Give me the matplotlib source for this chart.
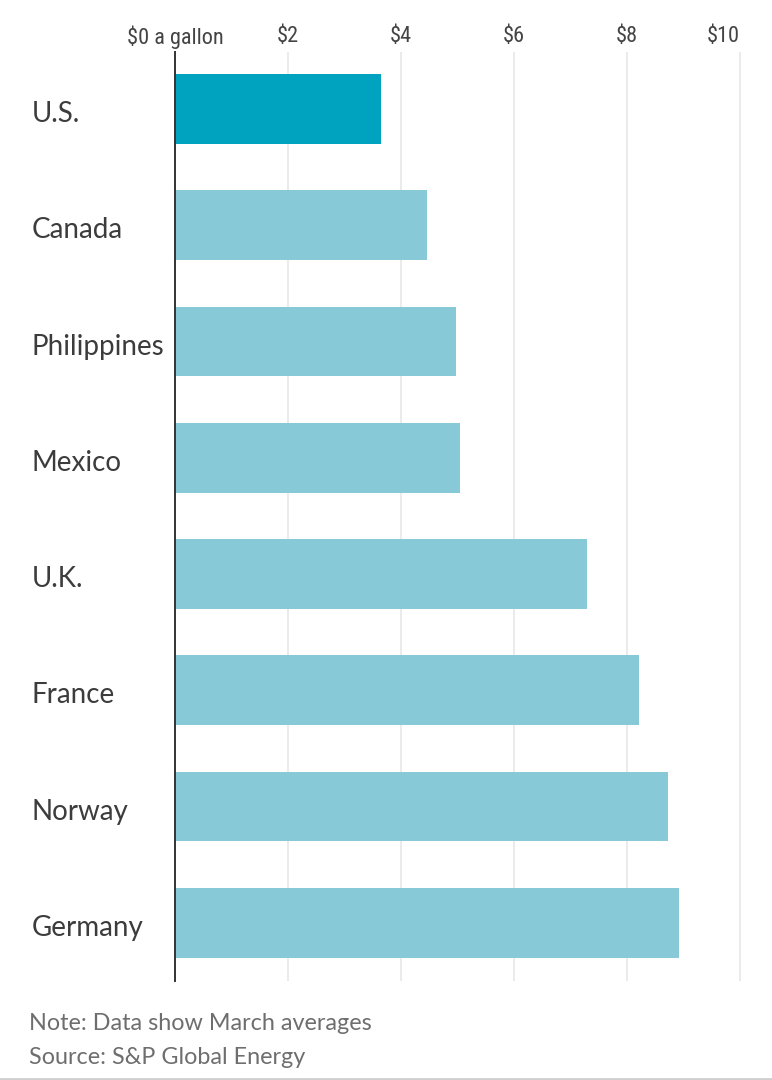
import matplotlib
matplotlib.use("Agg")
import matplotlib.pyplot as plt
import logging
logging.getLogger("matplotlib.font_manager").setLevel(logging.ERROR)

countries = ["U.S.", "Canada", "Philippines", "Mexico", "U.K.", "France", "Norway", "Germany"]
prices = [3.65, 4.47, 4.98, 5.05, 7.30, 8.22, 8.74, 8.93]
tick_values = [0, 2, 4, 6, 8, 10]
tick_labels = ["$0 a gallon", "$2", "$4", "$6", "$8", "$10"]
note_lines = ["Note: Data show March averages", "Source: S&P Global Energy"]
highlight = "#00A3BF"
muted = "#87C9D7"

W, H = 772, 1080
fig = plt.figure(figsize=(W / 100, H / 100), dpi=100, facecolor="white")
ax = fig.add_axes([175 / W, 1 - 981 / H, (741 - 175) / W, (981 - 52) / H])
ax.set_xlim(0, 566 / 56.45)
ax.set_ylim(7.5, -0.49)

ax.barh(range(len(countries)), prices, height=0.6,
        color=[highlight] + [muted] * (len(countries) - 1), zorder=2, linewidth=0)
for s in ["top", "right", "bottom"]:
    ax.spines[s].set_visible(False)
ax.spines["left"].set_color("#333333")
ax.spines["left"].set_linewidth(1.4)
ax.spines["left"].set_zorder(3)

ax.xaxis.tick_top()
ax.set_xticks(tick_values)
ax.set_xticklabels([])
ax.tick_params(axis="x", length=0)
ax.grid(axis="x", color="#E6E6E6", linewidth=1.1, zorder=1)
ax.set_axisbelow(True)
ax.set_yticks([])

narrow = ["Roboto Condensed", "Open Sans Condensed", "Roboto", "DejaVu Sans"]
for v, lab in zip(tick_values, tick_labels):
    ax.annotate(lab, (v, 1), xycoords=("data", "axes fraction"), xytext=(0, 15),
                textcoords="offset pixels", ha="right" if v == 10 else "center", va="center",
                fontsize=16, color="#444444", family=narrow)

for i, c in enumerate(countries):
    ax.annotate(c, (0, i), xycoords="data", xytext=(32 - 175, -5),
                textcoords="offset pixels", ha="left", va="center",
                fontsize=20, color="#3C3C3C", family="Lato")

for y, line in zip([1024, 1057], note_lines):
    fig.text(29 / W, 1 - y / H, line, ha="left", va="center",
             fontsize=16.8, color="#6E6E6E", family="Lato")

fig.add_artist(plt.Line2D([0, 1], [1 - 1078.5 / H] * 2, color="#CFCFCF", linewidth=2,
                          transform=fig.transFigure))
fig.savefig("out.png", dpi=100, facecolor="white")
